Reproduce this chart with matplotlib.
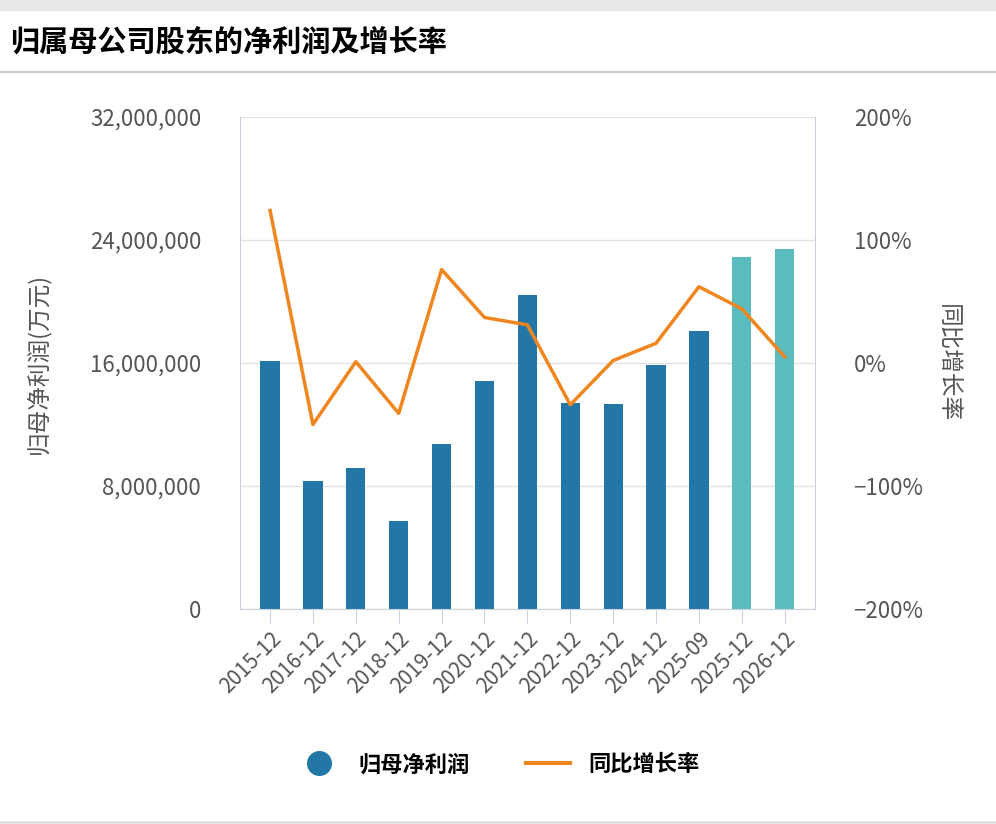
import numpy as np
import matplotlib.pyplot as plt
from matplotlib.lines import Line2D

plt.rcParams['font.family'] = ['Noto Sans CJK SC', 'DejaVu Sans']

periods = ['2015-12', '2016-12', '2017-12', '2018-12', '2019-12', '2020-12', '2021-12',
           '2022-12', '2023-12', '2024-12', '2025-09', '2025-12', '2026-12']
profit = [16.1e6, 8.3e6, 9.2e6, 5.7e6, 10.7e6, 14.8e6, 20.4e6,
          13.4e6, 13.3e6, 15.9e6, 18.1e6, 22.9e6, 23.4e6]
growth = [124, -50, 1, -41, 76, 37, 31, -34, 2, 16, 62, 44, 5]
forecast = [False] * 11 + [True] * 2

fig = plt.figure(figsize=(9.96, 8.24), dpi=100)
fig.patches.append(plt.Rectangle((0, 0.988), 1, 0.012, transform=fig.transFigure, color='#e8e8e8'))
fig.add_artist(Line2D([0, 1], [0.913, 0.913], color='#cccccc', lw=1.5))
fig.add_artist(Line2D([0, 1], [0.003, 0.003], color='#e0e0e0', lw=2))
fig.text(0.010, 0.950, '归属母公司股东的净利润及增长率', fontsize=21, fontweight='bold', va='center')

ax = fig.add_axes([0.241, 0.261, 0.577, 0.597])
x = np.arange(len(periods))
colors = ['#5bbcbf' if f else '#2277a6' for f in forecast]
ax.bar(x, profit, width=0.45, color=colors, zorder=2)
ax.set_ylim(0, 32e6)
ax.set_xlim(-0.7, len(periods) - 0.3)
ax.set_yticks([0, 8e6, 16e6, 24e6, 32e6])
ax.set_yticklabels([f'{int(v):,}' for v in [0, 8e6, 16e6, 24e6, 32e6]])
ax.grid(axis='y', color='#e3e3e3', lw=1, zorder=0)
ax.spines['top'].set_visible(False)
for s in ['left', 'right', 'bottom']:
    ax.spines[s].set_color('#c8d0dc')
ax.set_xticks(x)
ax.set_xticklabels(periods, rotation=45, ha='right', rotation_mode='anchor')
ax.tick_params(axis='x', length=10, color='#c8d0dc', labelsize=15, labelcolor='#555555')
ax.tick_params(axis='y', length=0, labelsize=16, labelcolor='#555555', pad=28)
ax.set_ylabel('归母净利润(万元)', fontsize=17, color='#555555')
ax.yaxis.set_label_coords(-0.33, 0.5)

ax2 = ax.twinx()
ax2.plot(x, growth, color='#f0861f', lw=2.5, zorder=3)
ax2.set_ylim(-200, 200)
ax2.set_yticks([-200, -100, 0, 100, 200])
ax2.set_yticklabels(['−200%', '−100%', '0%', '100%', '200%'])
ax2.tick_params(axis='y', length=0, labelsize=16, labelcolor='#555555', pad=28)
for s in ax2.spines.values():
    s.set_visible(False)
ax2.set_ylabel('同比增长率', fontsize=17, color='#555555', rotation=270, va='center')
ax2.yaxis.set_label_coords(1.23, 0.5)

handles = [Line2D([], [], marker='o', ls='', color='#2277a6', markersize=17),
           Line2D([], [], color='#f0861f', lw=3)]
fig.legend(handles, ['归母净利润', '同比增长率'], loc='center', bbox_to_anchor=(0.5, 0.072),
           ncol=2, frameon=False, prop={'size': 16, 'weight': 'bold'}, columnspacing=2.5)

fig.savefig('out.png')
